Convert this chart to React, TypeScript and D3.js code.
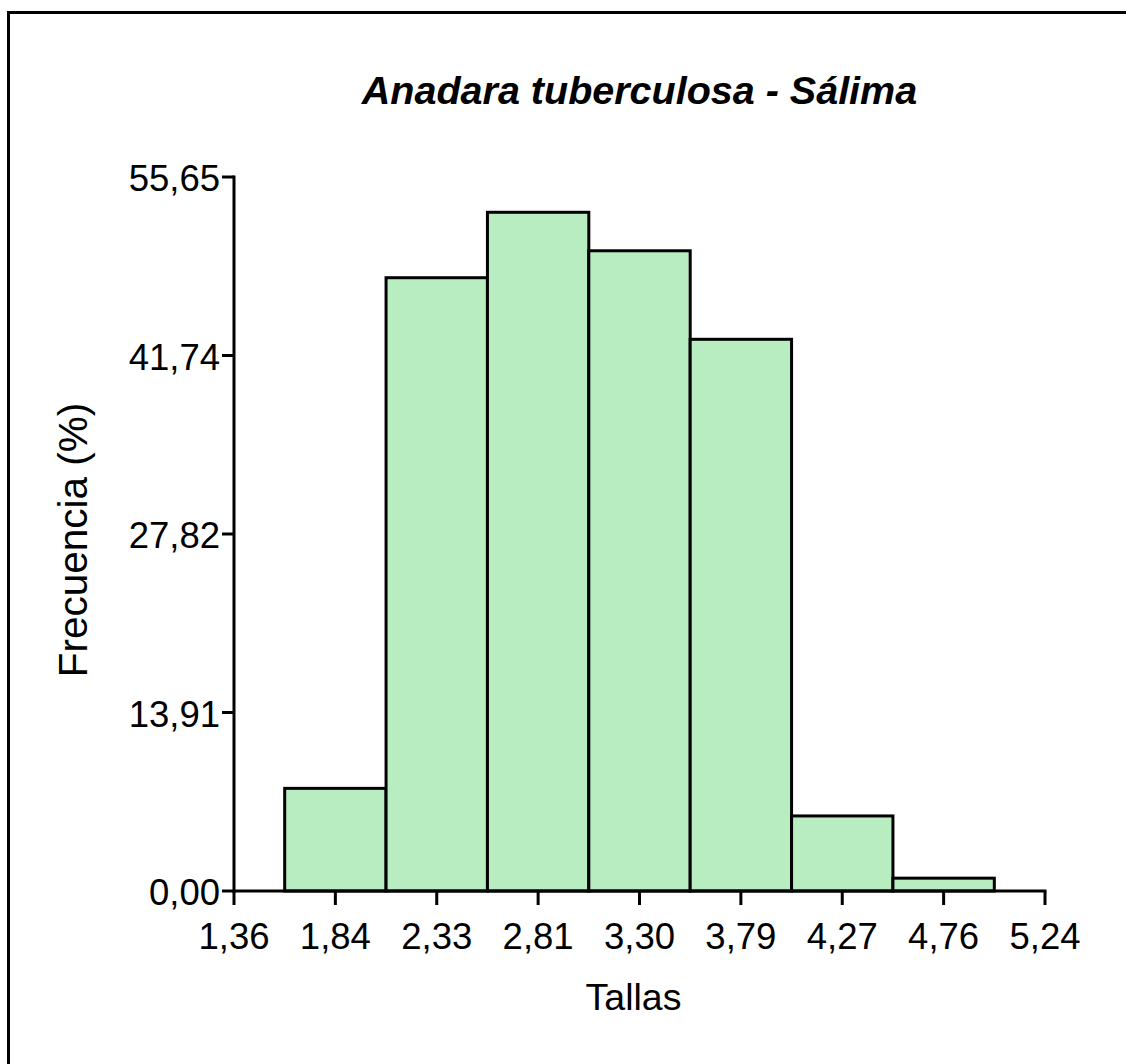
import React from "react";
import * as d3 from "d3";

// Histogram of shell sizes (Tallas) with relative frequency per class
const binCenters = [1.845, 2.33, 2.815, 3.3, 3.785, 4.27, 4.755];
const frecuencia = [8.0, 47.8, 52.9, 49.9, 43.0, 5.85, 1.0];
const binWidth = 0.485;

const xTicks = [1.36, 1.845, 2.33, 2.815, 3.3, 3.785, 4.27, 4.755, 5.24];
const xTickLabels = ["1,36", "1,84", "2,33", "2,81", "3,30", "3,79", "4,27", "4,76", "5,24"];
const yTicks = [0, 13.9125, 27.825, 41.7375, 55.65];
const yTickLabels = ["0,00", "13,91", "27,82", "41,74", "55,65"];

const W = 1126;
const H = 1064;
const FONT = "'Liberation Sans', Arial, Helvetica, sans-serif";

export default function App() {
  const x = d3.scaleLinear().domain([1.36, 5.24]).range([234, 1045]);
  const y = d3.scaleLinear().domain([0, 55.65]).range([891, 177]);
  const [x0, x1] = x.range();
  const [y0, y1] = y.range();

  return (
    <svg
      width={W}
      height={H}
      style={{ position: "absolute", left: 0, top: 0, background: "#fff" }}
      fontFamily={FONT}
    >
      <rect x={0} y={0} width={W} height={H} fill="#fff" />
      {/* outer frame */}
      <rect x={8.5} y={12.5} width={W + 20} height={H + 20} fill="none" stroke="#000" strokeWidth={3} />

      <text x={(x0 + x1) / 2} y={104} textAnchor="middle" fontSize={39.5} fontWeight="bold" fontStyle="italic">
        Anadara tuberculosa - Sálima
      </text>

      {/* bars */}
      {binCenters.map((c, i) => (
        <rect
          key={i}
          x={x(c - binWidth / 2)}
          y={y(frecuencia[i])}
          width={x(c + binWidth / 2) - x(c - binWidth / 2)}
          height={y(0) - y(frecuencia[i])}
          fill="#b8ecc1"
          stroke="#000"
          strokeWidth={3}
        />
      ))}

      {/* y axis */}
      <line x1={x0} x2={x0} y1={y1 - 1.5} y2={y0 + 1.5} stroke="#000" strokeWidth={3} />
      {yTicks.map((t, i) => (
        <g key={i}>
          <line x1={x0 - 12} x2={x0} y1={y(t)} y2={y(t)} stroke="#000" strokeWidth={3} />
          <text x={x0 - 14} y={y(t) + 14} textAnchor="end" fontSize={36.5}>
            {yTickLabels[i]}
          </text>
        </g>
      ))}

      {/* x axis */}
      <line x1={x0 - 1.5} x2={x1 + 1.5} y1={y0} y2={y0} stroke="#000" strokeWidth={3} />
      {xTicks.map((t, i) => (
        <g key={i}>
          <line x1={x(t)} x2={x(t)} y1={y0} y2={y0 + 14} stroke="#000" strokeWidth={3} />
          <text x={x(t)} y={y0 + 58} textAnchor="middle" fontSize={36.5}>
            {xTickLabels[i]}
          </text>
        </g>
      ))}

      <text x={(x0 + x1) / 2 - 6} y={1010} textAnchor="middle" fontSize={37.5}>
        Tallas
      </text>
      <text
        transform={`translate(87, 540) rotate(-90)`}
        textAnchor="middle"
        fontSize={40.5}
      >
        Frecuencia (%)
      </text>
    </svg>
  );
}
